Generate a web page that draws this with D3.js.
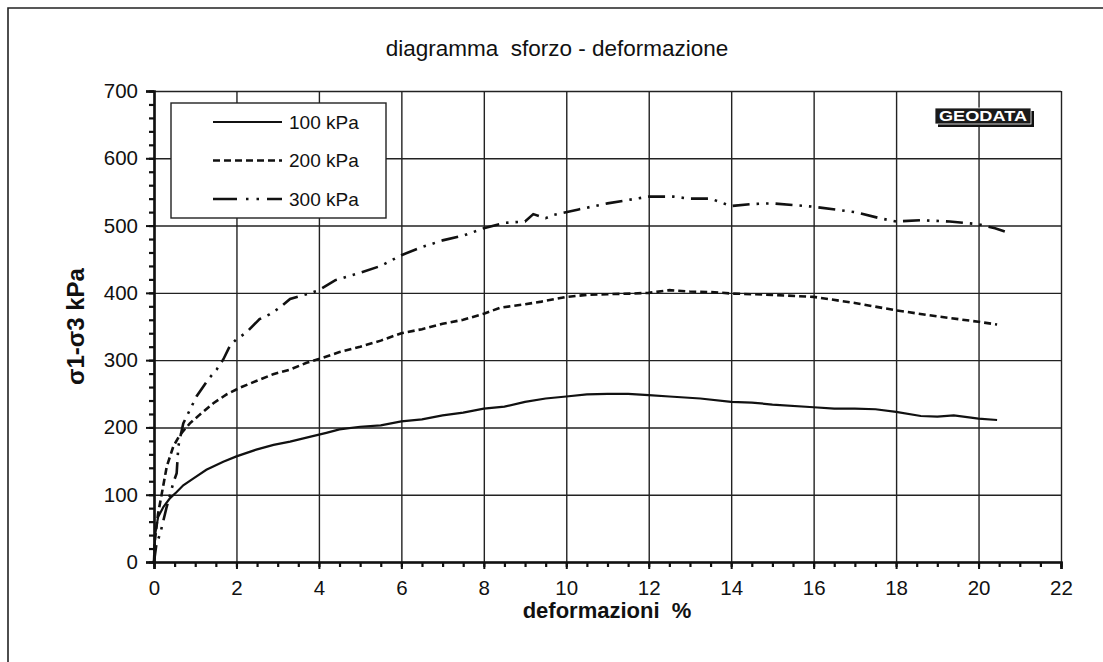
<!DOCTYPE html>
<html>
<head>
<meta charset="utf-8">
<title>diagramma sforzo - deformazione</title>
<script src="https://cdn.jsdelivr.net/npm/d3@7"></script>
<style>
    body { margin: 0; background: #fff; }
    svg { display: block; font-family: "Liberation Sans", Arial, sans-serif; }
</style>
</head>
<body>
<svg id="chart" width="1103" height="662"></svg>
<script>
/**
 * Curva sforzo - deformazione, prova triassiale a tre pressioni di cella.
 */

// deformazioni % e sforzo deviatorico (kPa)
var strain_100 = [0, 0.03, 0.1, 0.23, 0.39, 0.55, 0.71, 0.95, 1.27, 1.68, 2.0, 2.48, 2.9, 3.3, 3.85, 4.18, 4.5, 5.0, 5.5, 6.0, 6.5, 7.0, 7.5, 8.0, 8.5, 9.0, 9.5, 10.0, 10.5, 11.0, 11.5, 12.0, 12.5, 13.25, 14.0, 14.5, 15.0, 16.0, 16.5, 17.0, 17.5, 18.0, 18.6, 19.0, 19.4, 20.0, 20.45];
var stress_100 = [0, 42, 67, 82, 95, 104, 114, 124, 137, 149, 157, 167, 174, 179, 187, 192, 197, 201, 203, 209, 212, 218, 222, 228, 231, 238, 243, 246, 249, 250, 250, 248, 246, 243, 238, 237, 234, 230, 228, 228, 227, 223, 217, 216, 218, 213, 211];

var strain_200 = [0, 0.02, 0.1, 0.19, 0.31, 0.47, 0.63, 0.87, 1.11, 1.44, 1.76, 2.08, 2.48, 2.89, 3.3, 3.7, 4.02, 4.5, 5.0, 5.5, 6.0, 6.5, 7.0, 7.5, 8.0, 8.4, 9.0, 9.4, 10.0, 10.5, 11.0, 11.6, 12.0, 12.5, 13.0, 13.6, 14.0, 14.5, 15.0, 16.0, 17.0, 18.0, 19.0, 20.0, 20.45];
var stress_200 = [0, 32, 72, 102, 142, 172, 189, 206, 219, 236, 249, 259, 269, 279, 286, 296, 302, 312, 320, 329, 340, 346, 354, 360, 369, 378, 383, 387, 394, 397, 398, 399, 400, 404, 402, 401, 399, 398, 397, 394, 385, 374, 365, 357, 353];

var strain_300 = [0, 0.06, 0.15, 0.3, 0.47, 0.55, 0.59, 0.71, 0.87, 1.03, 1.31, 1.52, 1.68, 1.84, 2.0, 2.24, 2.56, 2.8, 3.05, 3.3, 3.7, 4.0, 4.4, 5.0, 5.5, 6.0, 6.5, 7.0, 7.5, 8.0, 8.5, 9.0, 9.2, 9.5, 9.7, 10.3, 11.0, 11.7, 12.0, 12.6, 13.0, 13.5, 14.0, 14.5, 15.0, 16.0, 17.0, 17.6, 18.0, 18.6, 19.3, 20.0, 20.4, 20.65];
var stress_300 = [0, 27, 42, 80, 118, 132, 172, 206, 226, 246, 271, 286, 301, 321, 331, 341, 361, 368, 378, 391, 398, 404, 419, 430, 440, 456, 468, 478, 485, 496, 504, 506, 517, 511, 516, 524, 533, 540, 543, 543, 540, 540, 529, 532, 533, 528, 520, 511, 506, 508, 506, 502, 496, 491];

var series_labels = ["100 kPa", "200 kPa", "300 kPa"];
var x_ticks = [0, 2, 4, 6, 8, 10, 12, 14, 16, 18, 20, 22];
var y_ticks = [0, 100, 200, 300, 400, 500, 600, 700];

var chart_title = "diagramma\u00a0\u00a0sforzo - deformazione";
var x_title = "deformazioni\u00a0\u00a0%";
var y_title = "\u03c31-\u03c33 kPa";

var svg = d3.select("#chart");
// bordi dell'area del grafico (non usare "top": e' window.top)
var plot_left = 154, plot_right = 1061, plot_top = 91, plot_bottom = 562;

var x = d3.scaleLinear().domain([0, 22]).range([plot_left, plot_right]);
var y = d3.scaleLinear().domain([0, 700]).range([plot_bottom, plot_top]);

// cornice esterna (tagliata a destra e in basso)
svg.append("path")
    .attr("d", "M8,662V8H1103")
    .attr("fill", "none")
    .attr("stroke", "#222")
    .attr("stroke-width", 1.6);

svg.append("text")
    .attr("x", 557).attr("y", 56)
    .attr("text-anchor", "middle")
    .attr("font-size", 22.5)
    .attr("fill", "#111")
    .text(chart_title);

function styleLines(g, color, width) {
    g.selectAll("line").attr("stroke", color).attr("stroke-width", width);
}

// griglia
svg.append("g")
    .attr("transform", "translate(0," + plot_bottom + ")")
    .call(d3.axisBottom(x).tickValues(x_ticks).tickSize(-(plot_bottom - plot_top)).tickFormat(""))
    .call(function(g) {
        g.select(".domain").remove();
        styleLines(g, "#222", 1.4);
    });

svg.append("g")
    .attr("transform", "translate(" + plot_left + ",0)")
    .call(d3.axisLeft(y).tickValues(y_ticks).tickSize(-(plot_right - plot_left)).tickFormat(""))
    .call(function(g) {
        g.select(".domain").remove();
        styleLines(g, "#222", 1.4);
    });

// tacche secondarie
svg.append("g")
    .attr("transform", "translate(" + plot_left + ",0)")
    .call(d3.axisLeft(y).tickValues(d3.range(0, 701, 20)).tickSize(5).tickFormat(""))
    .call(function(g) {
        g.select(".domain").remove();
        styleLines(g, "#111", 2.2);
    });

svg.append("g")
    .attr("transform", "translate(0," + plot_bottom + ")")
    .call(d3.axisBottom(x).tickValues(d3.range(0, 22.01, 0.5)).tickSize(5).tickFormat(""))
    .call(function(g) {
        g.select(".domain").remove();
        styleLines(g, "#111", 2.2);
    });

// assi principali con etichette
svg.append("g")
    .attr("transform", "translate(" + plot_left + ",0)")
    .call(d3.axisLeft(y).tickValues(y_ticks).tickSize(8).tickPadding(8))
    .call(function(g) {
        g.select(".domain").attr("stroke", "#111").attr("stroke-width", 2.6);
        styleLines(g, "#111", 2);
        g.selectAll("text").attr("font-size", 20.5).attr("fill", "#111")
            .attr("font-family", "Liberation Sans, Arial, sans-serif");
    });

svg.append("g")
    .attr("transform", "translate(0," + plot_bottom + ")")
    .call(d3.axisBottom(x).tickValues(x_ticks).tickSize(7).tickPadding(11))
    .call(function(g) {
        g.select(".domain").attr("stroke", "#111").attr("stroke-width", 2.6);
        styleLines(g, "#111", 2);
        g.selectAll("text").attr("font-size", 20.5).attr("fill", "#111")
            .attr("font-family", "Liberation Sans, Arial, sans-serif");
    });

svg.append("text")
    .attr("x", 607).attr("y", 618)
    .attr("text-anchor", "middle")
    .attr("font-size", 22)
    .attr("font-weight", "bold")
    .attr("fill", "#111")
    .text(x_title);

svg.append("text")
    .attr("transform", "translate(84," + ((plot_top + plot_bottom) / 2) + ") rotate(-90)")
    .attr("text-anchor", "middle")
    .attr("font-size", 24)
    .attr("font-weight", "bold")
    .attr("fill", "#111")
    .text(y_title);

// curve
var styles = [
    { width: 2.2, dash: null },
    { width: 2.6, dash: "7,4" },
    { width: 2.6, dash: "17,7,2.5,7,2.5,7" }
];
var strains = [strain_100, strain_200, strain_300];
var stresses = [stress_100, stress_200, stress_300];

var line = d3.line()
    .x(function(d) { return x(d[0]); })
    .y(function(d) { return y(d[1]); });

strains.forEach(function(sx, i) {
    var pts = d3.zip(sx, stresses[i]);
    svg.append("path")
        .datum(pts)
        .attr("d", line)
        .attr("fill", "none")
        .attr("stroke", "#111")
        .attr("stroke-width", styles[i].width)
        .attr("stroke-dasharray", styles[i].dash);
});

// legenda
var legend = svg.append("g").attr("transform", "translate(171,103)");
legend.append("rect")
    .attr("width", 215).attr("height", 115)
    .attr("fill", "#fff")
    .attr("stroke", "#222").attr("stroke-width", 1.4);

series_labels.forEach(function(lbl, i) {
    var ly = 19 + i * 38.5;
    legend.append("line")
        .attr("x1", 42).attr("x2", 111)
        .attr("y1", ly).attr("y2", ly)
        .attr("stroke", "#111")
        .attr("stroke-width", styles[i].width)
        .attr("stroke-dasharray", i == 2 ? "24,9,2.5,8,2.5,8" : styles[i].dash);
    legend.append("text")
        .attr("x", 118).attr("y", ly)
        .attr("dy", "0.35em")
        .attr("font-size", 19)
        .attr("fill", "#111")
        .text(lbl);
});

// logo
var logo = svg.append("g").attr("transform", "translate(935,108)");
logo.append("rect").attr("x", 3).attr("y", 3).attr("width", 96).attr("height", 16).attr("fill", "#111");
logo.append("rect").attr("width", 96).attr("height", 16).attr("fill", "#1a1a1a").attr("stroke", "#fff").attr("stroke-width", 0.8);
logo.append("text")
    .attr("x", 4).attr("y", 13)
    .attr("textLength", 88)
    .attr("lengthAdjust", "spacingAndGlyphs")
    .attr("font-size", 14)
    .attr("font-weight", "bold")
    .attr("fill", "#fff")
    .text("GEODATA");
</script>
</body>
</html>
